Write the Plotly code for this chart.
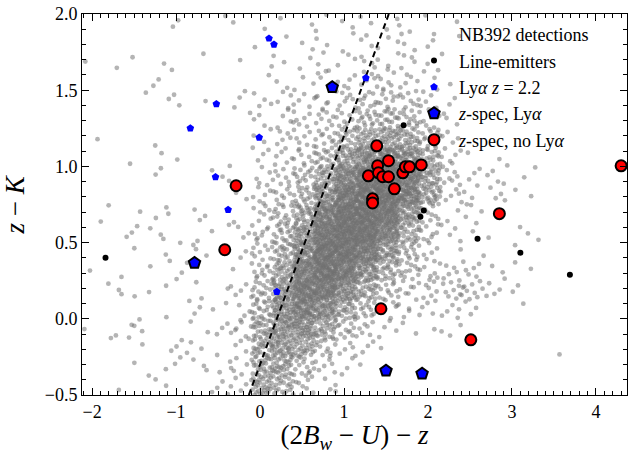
import plotly.graph_objects as go

# ---------------- data ----------------
# Gray cloud (NB392 detections): counts per cell of a grid (rows from top)
GRID_X0, GRID_DX, GRID_NX = -2.1, 0.25, 26
GRID_Y_TOP, GRID_DY, GRID_NY = 2.0, 0.125, 20
nb392_counts = [
    [0,0,0,0,2,0,1,1,1,1,1,2,2,2,2,2,1,1,0,0,0,0,0,0,0,0],
    [0,0,0,0,0,0,0,0,1,1,2,2,2,3,3,3,2,1,0,0,0,0,0,0,0,0],
    [1,1,1,1,1,1,0,1,1,2,2,3,3,4,4,4,2,1,0,0,0,0,0,0,0,0],
    [0,0,0,2,0,0,0,0,1,2,3,4,5,6,6,5,3,1,0,0,0,0,0,0,0,0],
    [0,0,1,0,3,1,0,3,4,4,5,6,8,10,11,9,5,2,0,0,0,0,0,0,0,0],
    [0,0,0,0,0,0,0,1,3,5,6,8,11,16,18,15,8,3,0,0,0,0,0,0,0,0],
    [1,0,0,1,0,0,0,0,3,5,7,11,18,28,32,28,13,4,0,0,0,0,0,0,0,0],
    [0,0,1,1,1,0,1,0,4,6,9,17,34,52,58,48,24,6,1,1,1,0,0,0,0,0],
    [0,0,0,2,0,0,3,0,5,8,14,30,58,78,82,68,32,8,3,3,2,1,0,0,0,0],
    [0,0,0,0,0,0,0,3,6,10,18,44,78,92,92,68,30,6,4,3,2,1,0,0,0,0],
    [1,1,1,2,1,3,0,1,7,14,30,68,92,96,82,38,10,2,4,0,0,0,0,0,0,0],
    [0,0,3,3,0,1,2,3,9,18,40,82,96,92,62,26,8,4,1,1,1,2,0,0,0,0],
    [0,0,1,1,2,3,0,2,10,22,52,92,92,72,38,16,6,1,0,1,1,0,0,0,0,0],
    [1,1,0,1,3,0,0,1,12,30,66,92,74,46,22,12,7,6,6,2,2,1,0,0,0,0],
    [0,3,1,2,0,2,1,5,16,40,76,76,50,26,12,8,6,8,10,4,2,0,0,0,0,0],
    [0,0,0,1,0,3,2,3,20,45,66,50,28,14,7,5,4,5,3,0,1,0,0,0,0,0],
    [1,1,5,0,0,2,3,7,26,45,45,28,14,6,4,2,1,3,1,0,0,0,0,0,0,0],
    [0,1,1,0,4,2,1,4,28,38,28,14,6,3,1,0,0,0,0,0,0,0,1,0,0,0],
    [0,0,1,2,2,3,2,5,28,28,14,6,3,1,0,0,0,0,0,0,0,0,0,0,0,0],
    [0,1,0,2,0,0,4,5,30,22,8,3,1,0,0,0,0,0,0,0,0,0,0,0,0,0],
]

line_x = [-1.84, 1.71, 1.95, 1.91, 2.59, 3.10, 3.69]
line_y = [0.40, 1.27, 0.71, 0.67, 0.525, 0.433, 0.289]

lya_x = [0.107, 0.166, -0.52, -0.83, -0.01, -0.53, -0.38, 0.20, 1.26]
lya_y = [1.84, 1.80, 1.41, 1.25, 1.19, 0.93, 0.715, 0.177, 1.58]

zspec_lya_x = [0.86, -0.78, 1.50, 1.93]
zspec_lya_y = [1.52, 0.367, -0.341, -0.36]

zspec_nolya_x = [1.39, 1.53, 1.40, 1.29, 1.41, 1.46, 1.53, 1.70, 1.73, 1.78, 1.92,
                 1.60, 1.34, 1.34, -0.285, -0.42, 1.44, 2.51, 2.85, 4.30]
zspec_nolya_y = [1.135, 1.037, 1.004, 0.938, 0.958, 0.932, 0.932, 0.958, 0.997, 0.997, 1.01,
                 0.853, 0.787, 0.76, 0.873, 0.453, 0.066, -0.138, 0.69, 1.004]

# selection boundary  z-K = slope*x + intercept
DIV_SLOPE, DIV_INTERCEPT = 1.5, -0.3

X_RANGE = [-2.12, 4.37]
Y_RANGE = [-0.5, 2.0]


# ---------------- place gray cloud points inside their grid cells ----------------
def radical_inverse(i, base):
    f, r = 1.0, 0.0
    while i > 0:
        f /= base
        r += f * (i % base)
        i //= base
    return r


gx, gy = [], []
k = 0
for r, row in enumerate(nb392_counts):
    y_hi = GRID_Y_TOP - r * GRID_DY
    for c, n in enumerate(row):
        x_lo = GRID_X0 + c * GRID_DX
        for _ in range(n):
            k += 1
            u = radical_inverse(k, 2)
            v = radical_inverse(k, 3)
            gx.append(x_lo + u * GRID_DX)
            gy.append(y_hi - v * GRID_DY)

FONT = "Liberation Serif"

fig = go.Figure()
fig.add_trace(go.Scatter(x=gx, y=gy, mode="markers", name="NB392 detections",
                         legendgroup="a",
                         marker=dict(size=4.8, color="rgba(112,112,112,0.52)", line=dict(width=0))))
ly = Y_RANGE
lx = [(v - DIV_INTERCEPT) / DIV_SLOPE for v in ly]
fig.add_trace(go.Scatter(x=lx, y=ly, mode="lines", showlegend=False,
                         line=dict(color="black", width=2, dash="6px,4px")))
fig.add_trace(go.Scatter(x=line_x, y=line_y, mode="markers", name="Line-emitters",
                         legendgroup="b",
                         marker=dict(size=6, color="black", line=dict(width=0))))
fig.add_trace(go.Scatter(x=lya_x, y=lya_y, mode="markers", name="Ly<i>α z</i> = 2.2",
                         legendgroup="c",
                         marker=dict(size=8, symbol="pentagon", color="#0000ff", line=dict(width=0))))
fig.add_trace(go.Scatter(x=zspec_lya_x, y=zspec_lya_y, mode="markers", name="<i>z</i>-spec, Ly<i>α</i>",
                         legendgroup="d",
                         marker=dict(size=12, symbol="pentagon", color="#0000ff",
                                     line=dict(width=2, color="black"))))
fig.add_trace(go.Scatter(x=zspec_nolya_x, y=zspec_nolya_y, mode="markers", name="<i>z</i>-spec, no Ly<i>α</i>",
                         legendgroup="e",
                         marker=dict(size=11, symbol="circle", color="#ff0000",
                                     line=dict(width=2, color="black"))))

axis_common = dict(showline=True, linecolor="black", linewidth=1, mirror="allticks",
                   ticks="inside", ticklen=7, tickwidth=1, tickcolor="black",
                   showgrid=False, zeroline=False,
                   tickfont=dict(family=FONT, size=18, color="black"))

fig.update_xaxes(range=X_RANGE, dtick=1, tick0=0,
                 minor=dict(ticks="inside", dtick=0.1, tick0=0, ticklen=4, tickcolor="black", showgrid=False),
                 title=dict(text="(2<i>B<sub>w</sub></i> − <i>U</i>) − <i>z</i>",
                            font=dict(family=FONT, size=27, color="black"), standoff=0),
                 **axis_common)
fig.update_yaxes(range=Y_RANGE, dtick=0.5, tick0=0, tickformat=".1f",
                 minor=dict(ticks="inside", dtick=0.1, tick0=0, ticklen=4, tickcolor="black", showgrid=False),
                 **axis_common)

fig.add_annotation(text="<i>z</i> − <i>K</i>", textangle=-90, showarrow=False,
                   xref="paper", yref="paper", x=-0.123, y=0.5,
                   xanchor="center", yanchor="middle",
                   font=dict(family=FONT, size=27, color="black"))

fig.update_layout(
    width=630, height=454,
    margin=dict(l=82, r=3, t=14, b=59),
    plot_bgcolor="white", paper_bgcolor="white",
    legend=dict(x=0.60, y=0.995, xanchor="left", yanchor="top",
                bgcolor="rgba(0,0,0,0)", borderwidth=0,
                traceorder="grouped", tracegroupgap=0, itemwidth=40,
                font=dict(family=FONT, size=18, color="black"),
                itemsizing="trace"),
    font=dict(family=FONT, color="black"),
)

fig.write_html("out.html")
